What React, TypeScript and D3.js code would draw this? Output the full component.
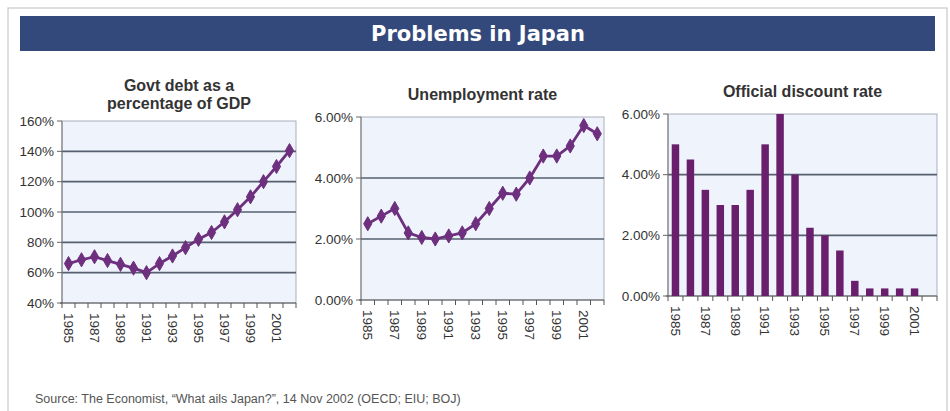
import React from "react";
import * as d3 from "d3";

const years = d3.range(1985, 2003).map(String);
const debtValues = [66, 68.5, 70.5, 68, 65.5, 63, 60, 66, 71, 76.5, 82, 86.5, 93.5, 101.5, 110, 120, 130, 140.5];
const unempValues = [2.5, 2.75, 3.0, 2.2, 2.05, 2.0, 2.1, 2.2, 2.5, 3.0, 3.5, 3.47, 4.0, 4.72, 4.72, 5.05, 5.72, 5.45];
const discountYears = d3.range(1985, 2002).map(String);
const discountValues = [5.0, 4.5, 3.5, 3.0, 3.0, 3.5, 5.0, 6.0, 4.0, 2.25, 2.0, 1.5, 0.5, 0.25, 0.25, 0.25, 0.25];
const debtTicks = [40, 60, 80, 100, 120, 140, 160];
const rateTicks = [0, 2, 4, 6];
const xLabelYears = ["1985", "1987", "1989", "1991", "1993", "1995", "1997", "1999", "2001"];

const W = 950;
const H = 411;
const FONT = "'Liberation Sans', Arial, sans-serif";
const PURPLE = "#6d2f7e";
const BAR = "#6a1f6c";
const GRID = "#56606f";
const BG = "#eef3fc";
const TEXT = "#333";

type PanelProps = {
  x0: number; x1: number; y0: number; y1: number;
  domain: [number, number]; ticks: number[]; fmt: (v: number) => string;
  title: string[]; titleY: number;
  kind: "line" | "bar";
  values: number[]; cats: string[];
};

function Panel(p: PanelProps) {
  const x = d3.scaleBand<string>().domain(years).range([p.x0, p.x1]).paddingInner(0.5).paddingOuter(0.25);
  const xb = d3.scaleBand<string>().domain(years).range([p.x0, p.x1]);
  const y = d3.scaleLinear().domain(p.domain).range([p.y1, p.y0]);
  const cx = (c: string) => (xb(c) as number) + xb.bandwidth() / 2;
  const line = d3.line<number>().x((_, i) => cx(p.cats[i])).y((v) => y(v));
  const cxm = (p.x0 + p.x1) / 2;
  const diamond = d3.symbol().type(d3.symbolDiamond).size(58)();
  return (
    <g>
      {p.title.map((t, i) => (
        <text key={i} x={cxm} y={p.titleY + i * 18} textAnchor="middle" fontSize={16} fontWeight="bold" fill={TEXT} fontFamily={FONT}>{t}</text>
      ))}
      <rect x={p.x0} y={p.y0} width={p.x1 - p.x0} height={p.y1 - p.y0} fill={BG} stroke="#a9b0bb" strokeWidth={1} />
      {p.ticks.slice(1, -1).map((t) => (
        <line key={t} x1={p.x0} x2={p.x1} y1={y(t)} y2={y(t)} stroke={GRID} strokeWidth={1.6} />
      ))}
      <line x1={p.x0} x2={p.x0} y1={p.y0} y2={p.y1} stroke="#777" strokeWidth={1} />
      {p.ticks.map((t) => (
        <g key={t}>
          <line x1={p.x0 - 5} x2={p.x0} y1={y(t)} y2={y(t)} stroke="#666" />
          <text x={p.x0 - 8} y={y(t)} dy="0.35em" textAnchor="end" fontSize={13.5} fill={TEXT} fontFamily={FONT}>{p.fmt(t)}</text>
        </g>
      ))}
      <line x1={p.x0 - 2} x2={p.x1} y1={p.y1} y2={p.y1} stroke="#555" strokeWidth={1.2} />
      {years.map((c) => (
        <line key={c} x1={xb(c) as number} x2={xb(c) as number} y1={p.y1} y2={p.y1 + 5} stroke="#555" />
      ))}
      <line x1={p.x1} x2={p.x1} y1={p.y1} y2={p.y1 + 5} stroke="#555" />
      {p.kind === "bar" &&
        p.values.map((v, i) => (
          <rect key={i} x={x(p.cats[i]) as number} y={y(v)} width={x.bandwidth()} height={p.y1 - y(v)} fill={BAR} />
        ))}
      {p.kind === "line" && (
        <g>
          <path d={line(p.values) as string} fill="none" stroke={PURPLE} strokeWidth={2.8} strokeLinejoin="round" />
          {p.values.map((v, i) => (
            <path key={i} d={diamond as string} transform={`translate(${cx(p.cats[i])},${y(v)})`} fill={PURPLE} stroke={PURPLE} strokeWidth={1} strokeLinejoin="round" />
          ))}
        </g>
      )}
      {xLabelYears.map((c) => (
        <text key={c} transform={`translate(${cx(c)},${p.y1 + 10}) rotate(90)`} dy="0.35em" fontSize={13.5} fill={TEXT} fontFamily={FONT}>{c}</text>
      ))}
    </g>
  );
}

export default function App() {
  const pct0 = (v: number) => `${v}%`;
  const pct2 = (v: number) => `${v.toFixed(2)}%`;
  return (
    <svg width={W} height={H} style={{ position: "absolute", left: 0, top: 0, background: "#fff" }}>
      <rect x={8} y={8} width={939} height={420} fill="#fff" stroke="#c8c8c8" strokeWidth={1.2} />
      <rect x={20} y={16} width={915} height={35} fill="#34497b" />
      <text x={478} y={41} textAnchor="middle" fontSize={21} fontWeight="bold" fill="#fff" fontFamily="'DejaVu Sans', sans-serif">Problems in Japan</text>
      <Panel x0={62} x1={296} y0={121} y1={303} domain={[40, 160]} ticks={debtTicks} fmt={pct0}
        title={["Govt debt as a", "percentage of GDP"]} titleY={91} kind="line" values={debtValues} cats={years} />
      <Panel x0={361} x1={604} y0={117} y1={300} domain={[0, 6]} ticks={rateTicks} fmt={pct2}
        title={["Unemployment rate"]} titleY={100} kind="line" values={unempValues} cats={years} />
      <Panel x0={668} x1={937} y0={114} y1={296} domain={[0, 6]} ticks={rateTicks} fmt={pct2}
        title={["Official discount rate"]} titleY={97} kind="bar" values={discountValues} cats={discountYears} />
      <text x={35} y={403} fontSize={12.5} fill="#555" fontFamily={FONT}>Source: The Economist, “What ails Japan?”, 14 Nov  2002 (OECD; EIU; BOJ)</text>
    </svg>
  );
}
